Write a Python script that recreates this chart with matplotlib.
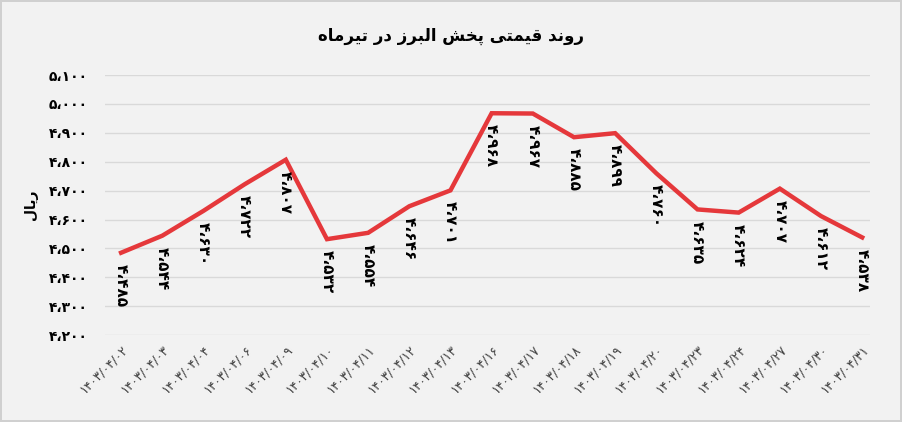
import matplotlib
matplotlib.use('Agg')
import matplotlib.pyplot as plt

plt.rcParams['font.family'] = ['DejaVu Sans']

# داده ها
dates = ['1403/04/02', '1403/04/03', '1403/04/04', '1403/04/06', '1403/04/09', '1403/04/10',
         '1403/04/11', '1403/04/12', '1403/04/13', '1403/04/16', '1403/04/17', '1403/04/18',
         '1403/04/19', '1403/04/20', '1403/04/23', '1403/04/24', '1403/04/27', '1403/04/30',
         '1403/04/31']
prices = [4485, 4544, 4630, 4722, 4807, 4532, 4554, 4646, 4701, 4968, 4967, 4885,
          4899, 4760, 4635, 4624, 4707, 4612, 4538]
yticks = list(range(4200, 5101, 100))

FA = str.maketrans('0123456789', '۰۱۲۳۴۵۶۷۸۹')


def fa_num(v):
    return f'{v:,}'.replace(',', '\u060c').translate(FA)


# عنوان به صورت حروف از پیش شکل داده شده (بدون شکل دهی در matplotlib)
title = ('\uFEE9\uFE8E\uFEE3\uFEAE\uFBFF\uFE97 \uFEAD\uFEA9 \uFEAF\uFEAE\uFE92\uFEDF\uFE8D '
         '\uFEB6\uFEA8\uFB58 \uFBFD\uFE98\uFEE4\uFBFF\uFED7 \uFEAA\uFEE7\uFEED\uFEAD')
ylab = '\uFEDD\uFE8E\uFBFE\uFEAD'

fig = plt.figure(figsize=(9.02, 4.22), dpi=100, facecolor='#f2f2f2')
ax = fig.add_axes([0.116, 0.206, 0.849, 0.616])
ax.set_facecolor('#f2f2f2')
fig.patch.set_edgecolor('#d0d0d0')
fig.patch.set_linewidth(1.5)

x = list(range(len(prices)))
ax.plot(x, prices, color='#e5383b', lw=3.2, solid_joinstyle='miter')
for xi, p in zip(x, prices):
    ax.annotate(fa_num(p), (xi, p), xytext=(0, -8), textcoords='offset points',
                rotation=-90, ha='center', va='top', fontsize=11, fontweight='bold')

ax.set_ylim(4200, 5100)
ax.set_yticks(yticks)
ax.set_yticklabels([fa_num(v) for v in yticks], fontsize=10, fontweight='bold')
ax.set_xlim(-0.4, len(prices) - 0.8)
ax.set_xticks(x)
ax.set_xticklabels([d.translate(FA) for d in dates], rotation=45, ha='right',
                   rotation_mode='anchor', fontsize=9, color='#404040')
ax.grid(axis='y', color='#d9d9d9', lw=1)
ax.set_axisbelow(True)
for s in ax.spines.values():
    s.set_visible(False)
ax.tick_params(length=0, pad=12)
ax.tick_params(axis='x', pad=6)
ax.set_ylabel(ylab, fontsize=10, fontweight='bold', labelpad=8)
fig.text(0.5, 0.915, title, ha='center', va='center', fontsize=12, fontweight='bold')

fig.savefig('out.png', dpi=100, facecolor=fig.get_facecolor(), edgecolor=fig.get_edgecolor())
